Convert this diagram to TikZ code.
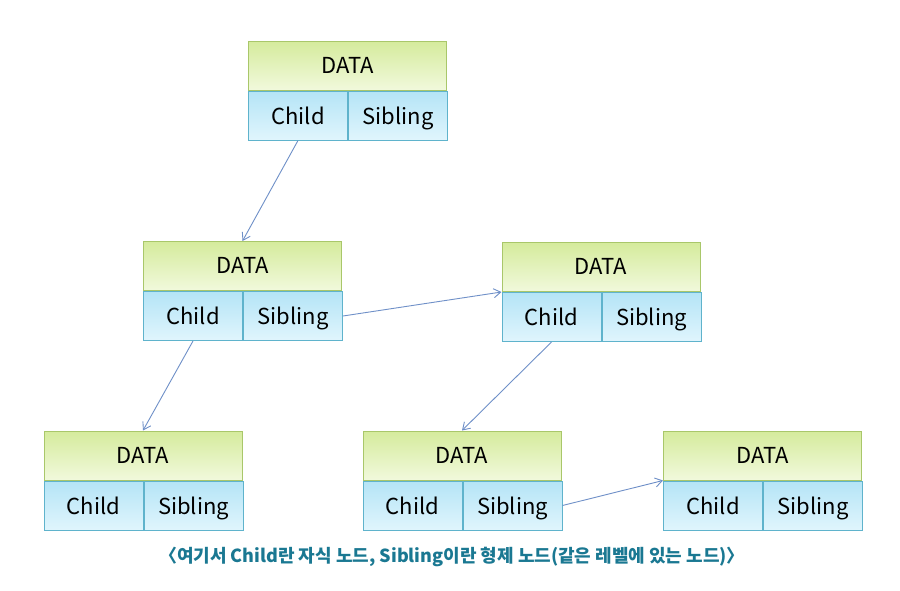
\documentclass[tikz,border=0pt]{standalone}
\usepackage{fontspec}
\setmainfont{Noto Sans CJK KR}
\usetikzlibrary{positioning,arrows.meta}
\definecolor{greenline}{HTML}{A9C76A}
\definecolor{greentop}{HTML}{D5EB9C}
\definecolor{greenbot}{HTML}{F1F9DC}
\definecolor{blueline}{HTML}{5FB3CC}
\definecolor{bluetop}{HTML}{B4E4F6}
\definecolor{bluebot}{HTML}{E0F5FD}
\definecolor{linkblue}{HTML}{6F90C8}
\definecolor{captionteal}{HTML}{1A7892}
\tikzset{
  datapart/.style={draw=greenline, line width=1pt, top color=greentop, bottom color=greenbot,
    minimum width=198pt, minimum height=49pt, inner sep=0pt, text height=15pt, text depth=0pt,
    font=\fontsize{22}{26}\selectfont},
  ptrpart/.style={draw=blueline, line width=1pt, top color=bluetop, bottom color=bluebot,
    minimum width=99pt, minimum height=49pt, inner sep=0pt, text height=17pt, text depth=0pt,
    font=\fontsize{22}{26}\selectfont},
  link/.style={draw=linkblue, line width=0.9pt, -{Straight Barb[length=7pt,width=9pt]}}
}
% one list node: DATA on top, Child | Sibling below
\newcommand{\listnode}[3]{%
  \node[datapart] (#1) at (#2,#3) {DATA};
  \node[ptrpart, below right=0pt of #1.south west] (#1c) {Child};
  \node[ptrpart, right=0pt of #1c] (#1s) {Sibling};
}
\begin{document}
\begin{tikzpicture}[x=1pt,y=-1pt]
\useasboundingbox[fill=white] (0,0) rectangle (900,590);
%nodes
\listnode{root}{347.5}{65.5}
\listnode{a}{242.5}{266}
\listnode{b}{601}{267}
\listnode{aa}{143}{455.5}
\listnode{ba}{462}{455.5}
\listnode{bb}{762.5}{455.5}
%links
\draw[link] (rootc.south) -- (a.north);
\draw[link] (as.east) -- (b.south west);
\draw[link] (ac.south) -- (aa.north);
\draw[link] (bc.south) -- (ba.north);
\draw[link] (bas.east) -- (bb.south west);
%caption
\node[font=\fontsize{18}{21}\selectfont\bfseries, text=captionteal] (caption) at (452,557)
  {〈여기서 Child란 자식 노드, Sibling이란 형제 노드(같은 레벨에 있는 노드)〉};
\end{tikzpicture}
\end{document}
